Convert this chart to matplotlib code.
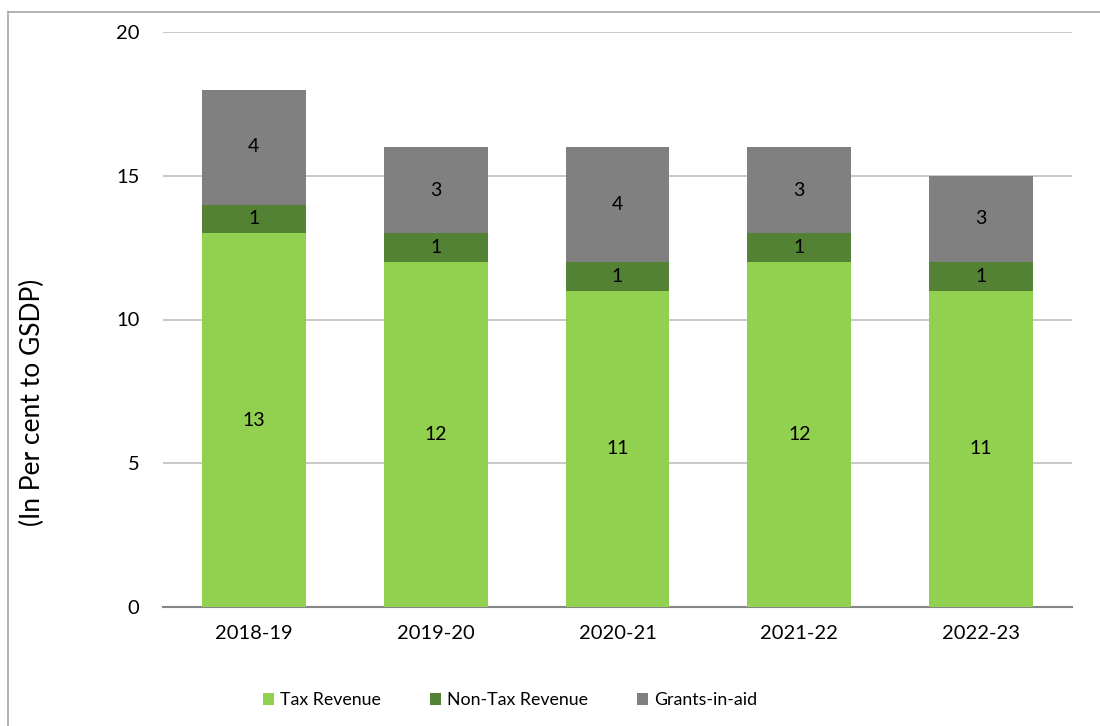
import matplotlib
matplotlib.use("Agg")
import matplotlib.pyplot as plt
import numpy as np

plt.rcParams["font.family"] = ["Lato", "DejaVu Sans"]

years = ["2018-19", "2019-20", "2020-21", "2021-22", "2022-23"]
tax_revenue = [13, 12, 11, 12, 11]
non_tax_revenue = [1, 1, 1, 1, 1]
grants_in_aid = [4, 3, 4, 3, 3]

series = [
    ("Tax Revenue", tax_revenue, "#92D050"),
    ("Non-Tax Revenue", non_tax_revenue, "#548235"),
    ("Grants-in-aid", grants_in_aid, "#808080"),
]

fig = plt.figure(figsize=(11, 7.26), dpi=100)
fig.patch.set_facecolor("white")
ax = fig.add_axes([163 / 1100, 1 - 607 / 726, 909 / 1100, 575 / 726])

x = np.arange(len(years))
bottom = np.zeros(len(years))
for name, vals, color in series:
    bars = ax.bar(x, vals, width=0.57, bottom=bottom, color=color, label=name, zorder=3)
    ax.bar_label(bars, labels=[str(v) for v in vals], label_type="center", fontsize=14, color="black")
    bottom += np.array(vals)

ax.set_xlim(-0.5, len(years) - 0.5)
ax.set_ylim(0, 20)
ax.set_yticks([0, 5, 10, 15, 20])
ax.set_xticks(x)
ax.set_xticklabels(years)
ax.tick_params(axis="both", length=0, labelsize=14.5, colors="black")
ax.tick_params(axis="y", pad=17)
ax.tick_params(axis="x", pad=13)
ax.grid(axis="y", color="#bfbfbf", linewidth=1.2, zorder=0)
for s in ["top", "right", "left"]:
    ax.spines[s].set_visible(False)
ax.spines["bottom"].set_color("#868686")
ax.spines["bottom"].set_linewidth(1.5)
ax.set_ylabel("(In Per cent to GSDP)", fontsize=19)
ax.yaxis.set_label_coords((45 - 163) / 909, (607 - 402) / 575)

leg = fig.legend(loc="center", bbox_to_anchor=(510 / 1100, 1 - 700 / 726), ncol=3,
                 frameon=False, fontsize=12.8, handlelength=0.62, handleheight=0.62,
                 handletextpad=0.3, columnspacing=2.8)

# chart border (Excel-style frame)
fig.add_artist(plt.Line2D([8 / 1100, 8 / 1100], [0, 1 - 12 / 726], transform=fig.transFigure,
                          color="#a6a6a6", linewidth=1.2))
fig.add_artist(plt.Line2D([8 / 1100, 1], [1 - 12 / 726, 1 - 12 / 726], transform=fig.transFigure,
                          color="#a6a6a6", linewidth=1.2))

fig.savefig("out.png", dpi=100, facecolor="white")
